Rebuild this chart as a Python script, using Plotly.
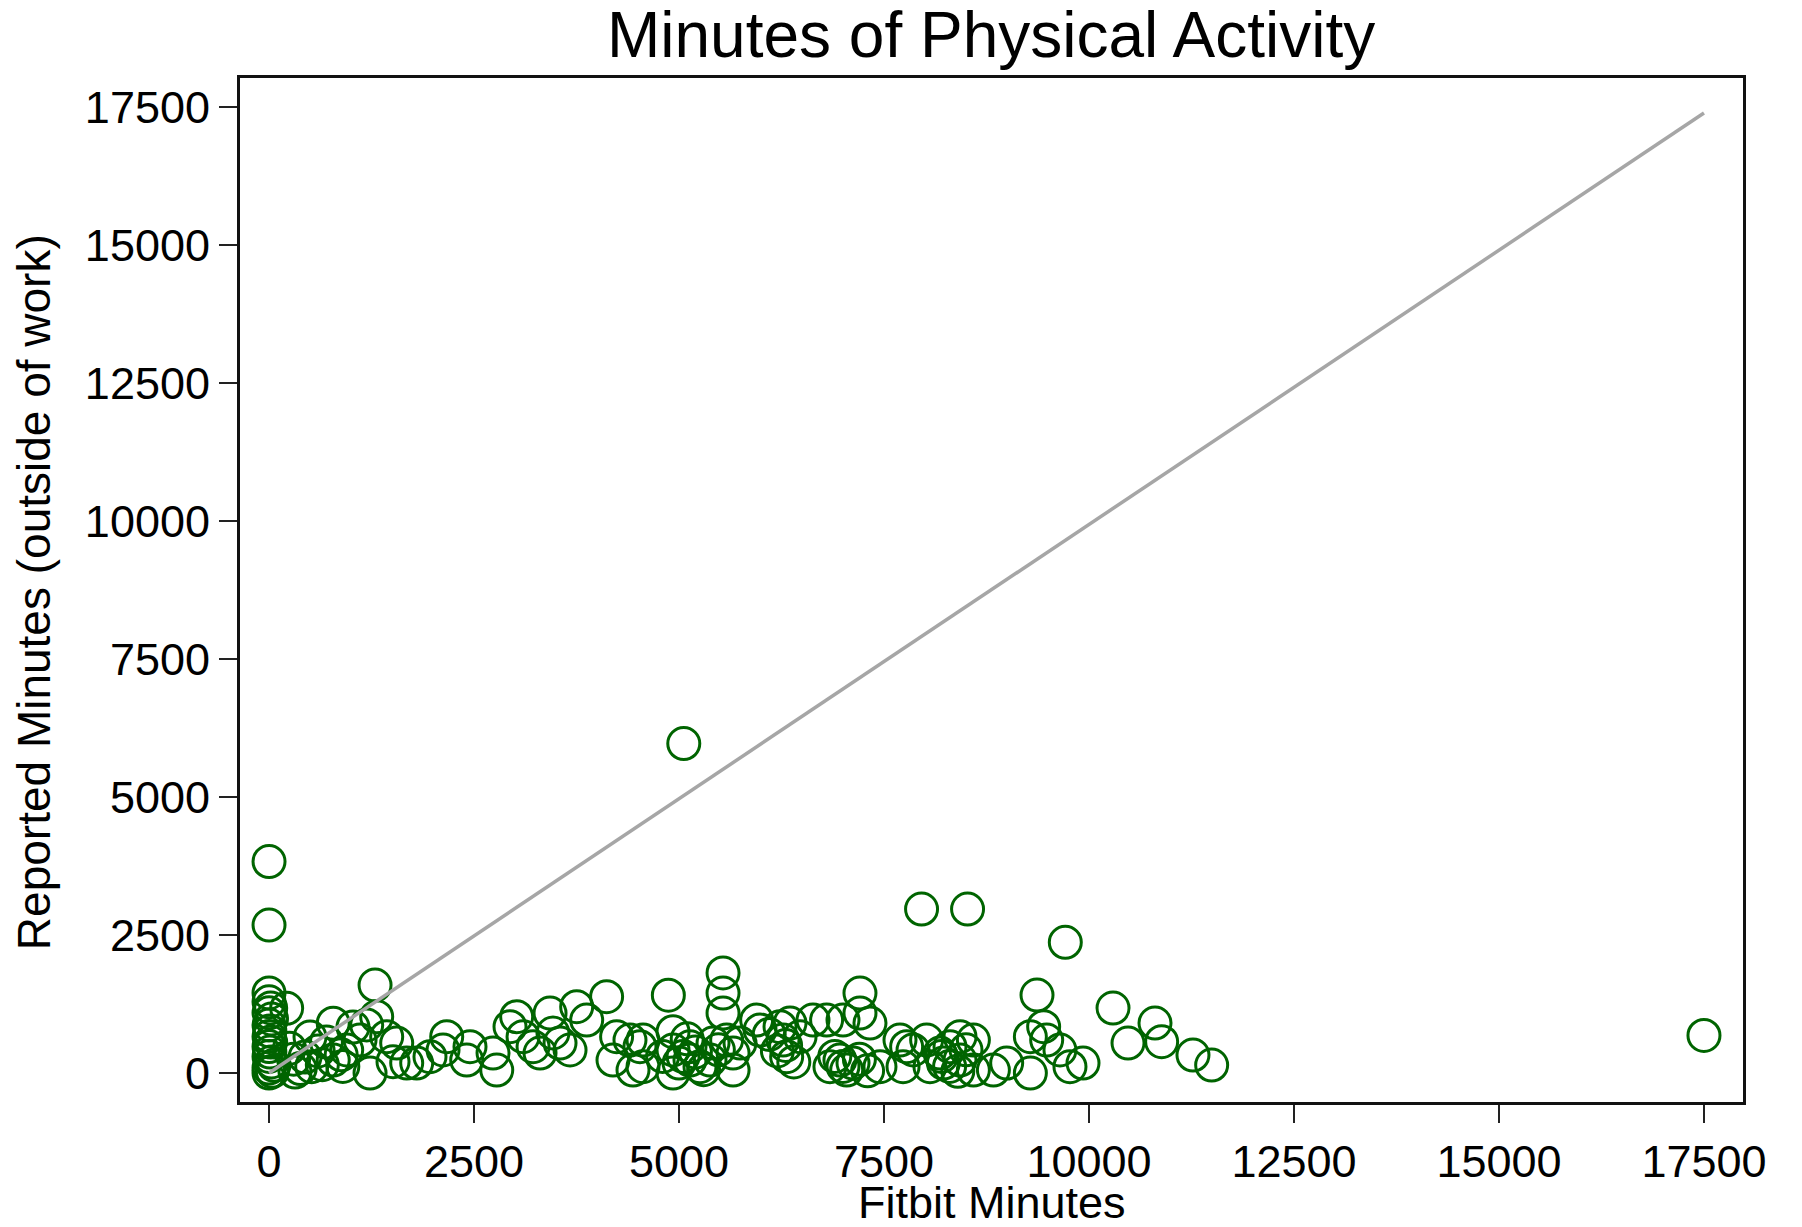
import plotly.graph_objects as go

# Fitbit minutes (x) and reported minutes outside of work (y)
fitbit_minutes = [
    0, 0, 0, 0, 20, 0, 30, 0, 10, 0, 20, 0, 10, 0, 30, 0, 0, 40, 60,
    215, 1293, 783, 500, 439, 520, 317, 783, 1024, 1191, 1110, 1313, 947, 1232,
    300, 380, 250, 600, 650, 700, 880, 900,
    1435, 1557, 1512, 1679, 1801, 1963, 2122, 2167, 2411, 2451, 2777, 2732,
    2939, 3020, 3098, 3220, 3305, 3427, 3463, 3549, 3671, 3752, 3874, 4117,
    4239, 4195, 4402, 4524, 4439, 4561, 4870,
    4561, 4927, 4927, 4927, 5134, 5134, 5256, 5050, 5378, 5415, 5581, 5659,
    5659, 5744, 5947, 5988, 6232, 6268, 6313, 6354, 6476, 6634, 6800, 6841,
    6963, 7000, 7045, 7122, 7207, 7207, 7329, 7451, 7695, 7776, 7732, 7854,
    8020, 8061, 8183, 8224, 8305, 8427, 8427, 8590, 8590, 8834, 8996, 9285,
    9285, 9366, 9447,
    5000, 5200, 5300, 5480, 5100, 4800, 6100, 6200, 6400, 6300, 6900, 7000,
    7200, 7300, 8200, 8300, 8500, 8400,
    5537, 5537, 5537, 5058, 7958, 8519, 9711,
    9484, 9646, 9768, 9927, 10293, 10476, 10805, 10886, 11268, 11496, 17500,
]
reported_minutes = [
    3830, 2680, 1450, 1290, 1180, 1090, 980, 870, 760, 660, 560, 480, 380, 300, 200, 90, 0, 30, 140,
    1172, 1594, 903, 652, 290, 114, 18, 235, 833, 870, 598, 1020, 417, 0,
    250, 80, 450, 400, 150, 560, 330, 120,
    658, 543, 205, 181, 181, 296, 417, 658, 235, 477, 54, 362,
    839, 1020, 658, 477, 362, 1087, 725, 543, 417, 1201, 960, 1382,
    658, 235, 598, 477, 54, 114, 1410,
    598, 748, 417, 0, 477, 235, 114, 300, 235, 543, 598, 54,
    362, 543, 960, 779, 839, 598, 296, 905, 658, 960, 960, 114,
    235, 960, 54, 181, 1449, 1087, 905, 114, 598, 477, 114, 417,
    598, 114, 362, 181, 477, 658, 235, 598, 54, 54, 181, 0,
    658, 1413, 839,
    180, 380, 60, 420, 620, 300, 700, 400, 200, 500, 300, 120,
    250, 40, 300, 120, 420, 30,
    1812, 1449, 1087, 5969, 2971, 2971, 2368,
    598, 417, 114, 181, 1177, 543, 905, 567, 326, 145, 681,
]

# reference line endpoints
line_x = [0, 17500]
line_y = [0, 17390]

tick_vals = [0, 2500, 5000, 7500, 10000, 12500, 15000, 17500]
tick_text = ["0", "2500", "5000", "7500", "10000", "12500", "15000", "17500"]

FONT = "Liberation Sans, Arial, sans-serif"

fig = go.Figure()
fig.add_trace(go.Scatter(
    x=fitbit_minutes, y=reported_minutes, mode="markers",
    marker=dict(symbol="circle-open", size=32, color="#006400",
                line=dict(width=3, color="#006400")),
    showlegend=False, hoverinfo="skip",
))
fig.add_trace(go.Scatter(
    x=line_x, y=line_y, mode="lines",
    line=dict(color="#a6a6a6", width=3.5),
    showlegend=False, hoverinfo="skip",
))

axis_common = dict(
    tickvals=tick_vals, ticktext=tick_text, automargin=False,
    ticks="outside", ticklen=18, tickwidth=2, tickcolor="#222222",
    showgrid=False, zeroline=False,
    showline=True, linecolor="#111111", linewidth=3, mirror=True,
    tickfont=dict(family=FONT, size=45, color="#000000"),
)

fig.update_layout(
    width=1802, height=1227,
    margin=dict(l=240, r=59, t=78, b=125),
    paper_bgcolor="white", plot_bgcolor="white",
    title=dict(text="Minutes of Physical Activity", x=0.55, xanchor="center",
               y=0.972, yanchor="middle",
               font=dict(family=FONT, size=64, color="#000000")),
    xaxis=dict(range=[-354, 17976], **axis_common),
    yaxis=dict(range=[-525, 18025], **axis_common),
    annotations=[
        dict(text="Fitbit Minutes", xref="paper", yref="paper",
             x=0.5, y=-0.0985, xanchor="center", yanchor="middle", borderpad=0,
             showarrow=False, font=dict(family=FONT, size=45, color="#000000")),
        dict(text="Reported Minutes (outside of work)", xref="paper", yref="paper",
             x=-0.137, y=0.498, xanchor="center", yanchor="middle", textangle=-90,
             borderpad=0,
             showarrow=False, font=dict(family=FONT, size=46, color="#000000")),
    ],
)

fig.write_html("out.html")
